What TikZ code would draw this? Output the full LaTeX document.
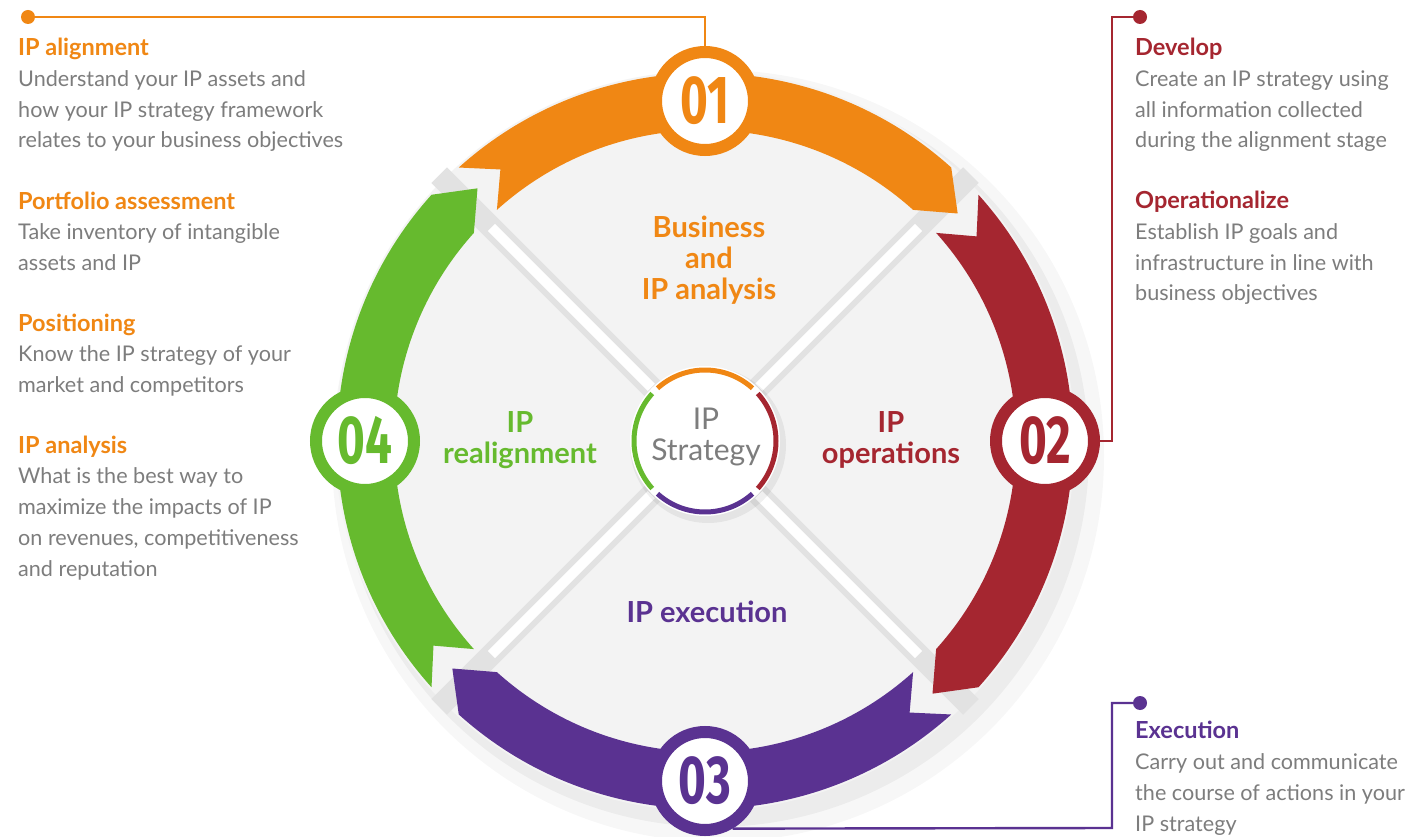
\documentclass[tikz,border=0pt]{standalone}
\usepackage{fontspec}
\usepackage{graphicx}
\setmainfont{Lato}
\newfontfamily\numfont{Fira Sans}
\usetikzlibrary{calc}
\definecolor{cor}{RGB}{240,135,20}
\definecolor{cre}{RGB}{165,38,48}
\definecolor{cpu}{RGB}{90,50,145}
\definecolor{cgr}{RGB}{102,186,46}
\definecolor{gtext}{RGB}{125,125,125}
\definecolor{gdisk}{RGB}{243,243,243}
\definecolor{gstrip}{RGB}{226,226,226}
\newcommand\hd[2]{{\bfseries\fontsize{23.5}{30.7}\selectfont\color{#1}#2}}
\tikzset{
  badge/.style={circle, draw=#1, line width=12, fill=white, minimum size=98, inner sep=0, outer sep=6, text=#1,
    font=\numfont\bfseries\fontsize{68}{68}\selectfont},
  dot/.style={circle, fill=#1, minimum size=14, inner sep=0},
  conn/.style={draw=#1, line width=2.4},
  txt/.style={align=left, inner sep=0, text=gtext, font=\fontsize{21.6}{30.7}\selectfont},
  qlabel/.style={align=center, inner sep=0, text=#1, font=\bfseries\fontsize{29}{31}\selectfont},
}
\begin{document}
\begin{tikzpicture}[x=1pt,y=1pt]
\useasboundingbox (0,0) rectangle (1425,-837);
\fill[white] (0,0) rectangle (1425,-837);

\begin{scope}[shift={(705,-441)}]
  % soft shadow
  \fill[black, opacity=0.03] (13,-15) circle (386);
  \fill[black, opacity=0.045] (9,-11) circle (375);
  % disk
  \fill[gdisk] (0,0) circle (370);
  % divider strips
  \foreach \a in {45,135,225,315}{
    \fill[gstrip, rotate=\a] (0,-11) rectangle (376,11);
    \fill[white, rotate=\a] (76,-5) rectangle (302,5);
  }
  % bands
  \foreach \s/\c in {135/cor,45/cre,-45/cpu,-135/cgr}{
    \pgfmathsetmacro\ta{\s-3}
    \pgfmathsetmacro\tb{\s-87}
    \pgfmathsetmacro\tt{\s-93}
    \pgfmathsetmacro\tn{\s-8}
    \fill[\c] (\ta:368) arc[start angle=\ta, end angle=\tb, radius=368]
      -- (\tt:340) -- (\tb:311) arc[start angle=\tb, end angle=\ta, radius=311]
      -- (\tn:340) -- cycle;
  }
  % center circle
  \fill[black, opacity=0.06] (3,-4) circle (78);
  \fill[white] (0,0) circle (75);
  \foreach \a/\c in {90/cor,0/cre,-90/cpu,180/cgr}{
    \pgfmathsetmacro\aa{\a+42}
    \pgfmathsetmacro\ab{\a-42}
    \draw[\c, line width=5] (\aa:71) arc[start angle=\aa, end angle=\ab, radius=71];
  }
\end{scope}

% center label
\node[align=center, inner sep=0, text=gtext, font=\fontsize{30}{31}\selectfont] (cs) at (706,-437) {IP\\Strategy};

% quadrant labels
\node[qlabel=cor] (q1) at (709,-260) {Business\\and\\IP analysis};
\node[qlabel=cre] (q2) at (891,-440) {IP\\operations};
\node[qlabel=cpu] (q3) at (707,-612) {IP execution};
\node[qlabel=cgr] (q4) at (520,-440) {IP\\realignment};

% badges
\node[badge=cor] (b1) at (705,-101) {\scalebox{0.7}[1]{01}};
\node[badge=cre] (b2) at (1045,-441) {\scalebox{0.7}[1]{02}};
\node[badge=cpu] (b3) at (705,-781) {\scalebox{0.7}[1]{03}};
\node[badge=cgr] (b4) at (365,-441) {\scalebox{0.7}[1]{04}};

% connectors
\node[dot=cor] (d1) at (28,-17) {};
\coordinate (k1) at (705,-17);
\draw[conn=cor] (d1) -- (k1) -- (b1);

\node[dot=cre] (d2) at (1140,-17) {};
\coordinate (k2a) at (1112,-17);
\coordinate (k2b) at (1112,-441);
\draw[conn=cre] (d2) -- (k2a) -- (k2b) -- (b2);

\node[dot=cpu] (d3) at (1140,-703) {};
\coordinate (k3a) at (1112,-703);
\coordinate (k3b) at (1112,-828);
\draw[conn=cpu] (d3) -- (k3a) -- (k3b) -- (b3.-60);

% left texts (anchor = baseline of last line)
\node[txt, anchor=base west] (t1) at (18,-148) {\hd{cor}{IP alignment}\\Understand your IP assets and\\how your IP strategy framework\\relates to your business objectives};
\node[txt, anchor=base west] (t2) at (18,-270.5) {\hd{cor}{Portfolio assessment}\\Take inventory of intangible\\assets and IP};
\node[txt, anchor=base west] (t3) at (18,-392.5) {\hd{cor}{Positioning}\\Know the IP strategy of your\\market and competitors};
\node[txt, anchor=base west] (t4) at (18,-576) {\hd{cor}{IP analysis}\\What is the best way to\\maximize the impacts of IP\\on revenues, competitiveness\\and reputation};

% right texts
\node[txt, anchor=base west] (t5) at (1135,-148) {\hd{cre}{Develop}\\Create an IP strategy using\\all information collected\\during the alignment stage};
\node[txt, anchor=base west] (t6) at (1135,-301) {\hd{cre}{Operationalize}\\Establish IP goals and\\infrastructure in line with\\business objectives};
\node[txt, anchor=base west] (t7) at (1135,-831) {\hd{cpu}{Execution}\\Carry out and communicate\\the course of actions in your\\IP strategy};
\end{tikzpicture}
\end{document}
